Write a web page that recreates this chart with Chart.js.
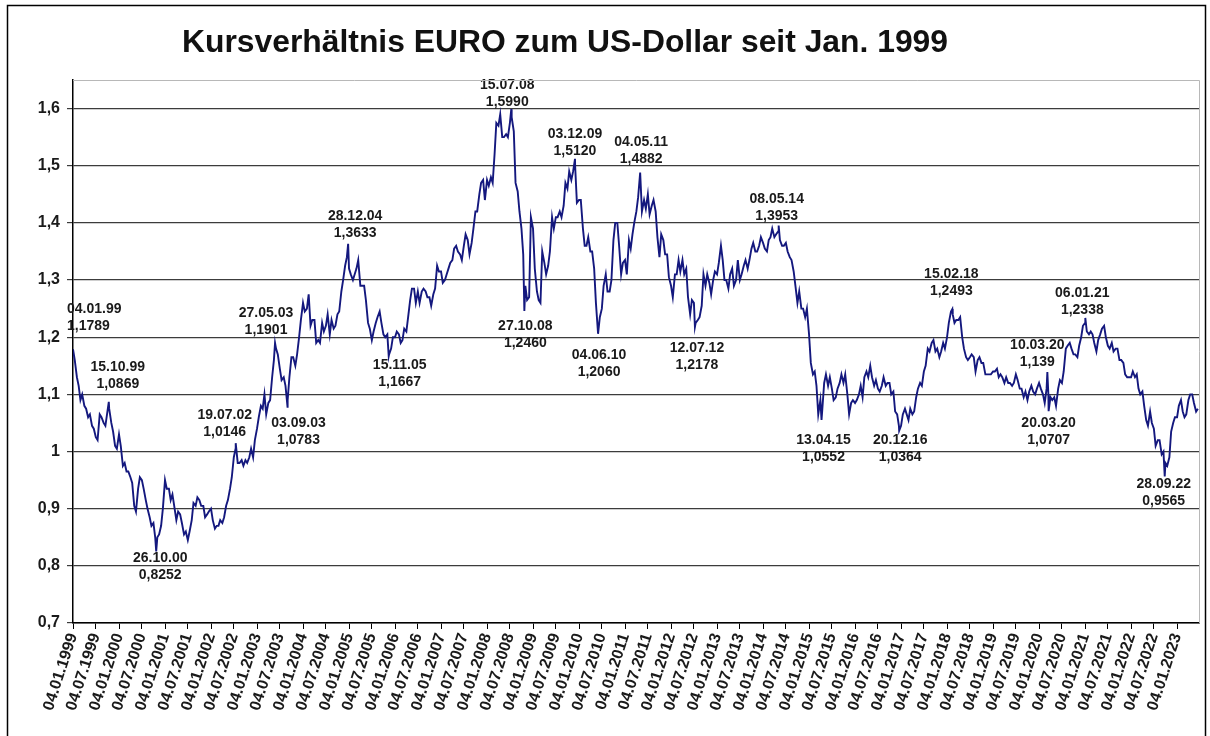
<!DOCTYPE html>
<html>
<head>
<meta charset="utf-8">
<script src="https://cdn.jsdelivr.net/npm/chart.js@4.4.0/dist/chart.umd.min.js"></script>
<style>
  html, body { margin: 0; padding: 0; background: #fff; }
  #wrap { width: 1210px; height: 736px; position: relative; }
</style>
</head>
<body>
<div id="wrap"><canvas id="c" width="1210" height="736"></canvas></div>
<script>
// ---- Data, two readings per month: 4th and 18th ----
const y1999 = [1.1789,1.16, 1.13,1.115, 1.09,1.10, 1.08,1.075, 1.06,1.065, 1.045,1.04, 1.025,1.02, 1.065,1.06, 1.05,1.045, 1.07,1.075, 1.05,1.035, 1.01,1.005];
const y2000 = [1.03,1.01, 0.975,0.98, 0.965,0.965, 0.955,0.945, 0.905,0.895, 0.935,0.955, 0.95,0.935, 0.915,0.90, 0.885,0.87, 0.875,0.85, 0.85,0.855, 0.87,0.90];
const y2001 = [0.95,0.935, 0.935,0.915, 0.925,0.905, 0.88,0.895, 0.89,0.875, 0.855,0.86, 0.845,0.86, 0.88,0.91, 0.905,0.92, 0.915,0.905, 0.905,0.885, 0.89,0.895];
const y2002 = [0.90,0.88, 0.865,0.87, 0.87,0.88, 0.875,0.885, 0.905,0.915, 0.935,0.955, 0.99,1.005, 0.98,0.98, 0.985,0.975, 0.985,0.98, 0.99,1.005, 0.99,1.02];
const y2003 = [1.04,1.06, 1.08,1.075, 1.10,1.065, 1.085,1.09, 1.13,1.16, 1.18,1.17, 1.145,1.125, 1.13,1.115, 1.09,1.13, 1.165,1.165, 1.15,1.17, 1.20,1.23];
const y2004 = [1.26,1.245, 1.25,1.275, 1.22,1.23, 1.23,1.19, 1.195,1.19, 1.225,1.21, 1.22,1.24, 1.205,1.23, 1.215,1.22, 1.24,1.245, 1.28,1.30, 1.325,1.34];
const y2005 = [1.32,1.31, 1.30,1.31, 1.32,1.335, 1.29,1.29, 1.29,1.265, 1.225,1.215, 1.195,1.21, 1.225,1.235, 1.245,1.225, 1.205,1.20, 1.205,1.17, 1.18,1.20];
const y2006 = [1.20,1.21, 1.205,1.19, 1.195,1.215, 1.21,1.235, 1.265,1.285, 1.285,1.26, 1.28,1.26, 1.28,1.285, 1.28,1.27, 1.27,1.255, 1.275,1.285, 1.325,1.315];
const y2007 = [1.315,1.295, 1.30,1.31, 1.32,1.33, 1.335,1.355, 1.36,1.35, 1.345,1.335, 1.36,1.38, 1.37,1.345, 1.365,1.39, 1.42,1.42, 1.45,1.47, 1.475,1.44];
const y2008 = [1.475,1.465, 1.48,1.47, 1.52,1.575, 1.57,1.59, 1.55,1.55, 1.555,1.55, 1.575,1.585, 1.56,1.47, 1.455,1.42, 1.39,1.345, 1.29,1.265, 1.27,1.41];
const y2009 = [1.39,1.32, 1.28,1.265, 1.26,1.35, 1.33,1.31, 1.325,1.35, 1.41,1.39, 1.41,1.41, 1.42,1.41, 1.43,1.47, 1.46,1.49, 1.475,1.49, 1.50,1.435];
const y2010 = [1.44,1.44, 1.39,1.36, 1.36,1.375, 1.35,1.35, 1.32,1.26, 1.215,1.235, 1.25,1.29, 1.31,1.28, 1.28,1.30, 1.37,1.40, 1.40,1.36, 1.31,1.33];
const y2011 = [1.335,1.31, 1.37,1.355, 1.38,1.40, 1.42,1.445, 1.48,1.42, 1.44,1.425, 1.45,1.415, 1.43,1.44, 1.42,1.375, 1.34,1.38, 1.37,1.345, 1.345,1.305];
const y2012 = [1.29,1.27, 1.31,1.31, 1.335,1.315, 1.335,1.31, 1.32,1.27, 1.24,1.265, 1.26,1.225, 1.23,1.235, 1.255,1.31, 1.29,1.31, 1.295,1.275, 1.30,1.315];
const y2013 = [1.31,1.33, 1.36,1.335, 1.30,1.30, 1.285,1.31, 1.32,1.29, 1.30,1.335, 1.30,1.31, 1.325,1.335, 1.32,1.335, 1.355,1.365, 1.35,1.35, 1.36,1.375];
const y2014 = [1.365,1.355, 1.35,1.37, 1.375,1.39, 1.375,1.38, 1.385,1.37, 1.36,1.36, 1.365,1.35, 1.34,1.335, 1.315,1.29, 1.26,1.28, 1.25,1.25, 1.235,1.25];
const y2015 = [1.205,1.155, 1.135,1.14, 1.115,1.065, 1.09,1.07, 1.12,1.135, 1.115,1.13, 1.11,1.09, 1.095,1.11, 1.12,1.135, 1.12,1.135, 1.10,1.065, 1.085,1.09];
const y2016 = [1.085,1.09, 1.10,1.115, 1.095,1.13, 1.14,1.13, 1.15,1.13, 1.115,1.125, 1.11,1.105, 1.115,1.13, 1.115,1.12, 1.12,1.10, 1.105,1.07, 1.065,1.045];
const y2017 = [1.045,1.065, 1.075,1.065, 1.055,1.075, 1.065,1.07, 1.095,1.11, 1.12,1.115, 1.14,1.15, 1.18,1.175, 1.19,1.195, 1.175,1.18, 1.165,1.175, 1.19,1.18];
const y2018 = [1.20,1.225, 1.245,1.24, 1.225,1.23, 1.23,1.235, 1.20,1.18, 1.165,1.16, 1.165,1.17, 1.165,1.14, 1.16,1.165, 1.155,1.155, 1.135,1.135, 1.135,1.135];
const y2019 = [1.14,1.14, 1.145,1.13, 1.135,1.13, 1.12,1.13, 1.12,1.12, 1.115,1.12, 1.135,1.125, 1.11,1.11, 1.095,1.105, 1.09,1.105, 1.115,1.105, 1.10,1.11];
const y2020 = [1.12,1.11, 1.10,1.085, 1.11,1.10, 1.095,1.09, 1.095,1.08, 1.11,1.125, 1.12,1.14, 1.18,1.185, 1.19,1.18, 1.17,1.17, 1.165,1.185, 1.20,1.22];
const y2021 = [1.225,1.21, 1.205,1.21, 1.205,1.19, 1.175,1.195, 1.205,1.215, 1.22,1.20, 1.185,1.18, 1.19,1.175, 1.18,1.18, 1.16,1.16, 1.155,1.135, 1.13,1.13];
const y2022 = [1.13,1.14, 1.13,1.135, 1.11,1.10, 1.105,1.08, 1.055,1.045, 1.07,1.05, 1.04,1.01, 1.02,1.02, 0.995,1.00, 0.98,0.975, 0.99,1.035, 1.05,1.06];
const y2023 = [1.06,1.08, 1.09,1.07, 1.06,1.065, 1.09,1.10, 1.10,1.085, 1.07,1.075];

const years = [1999,2000,2001,2002,2003,2004,2005,2006,2007,2008,2009,2010,2011,2012,2013,2014,2015,2016,2017,2018,2019,2020,2021,2022,2023];
const yearValues = [y1999,y2000,y2001,y2002,y2003,y2004,y2005,y2006,y2007,y2008,y2009,y2010,y2011,y2012,y2013,y2014,y2015,y2016,y2017,y2018,y2019,y2020,y2021,y2022,y2023];

// Annotated extremes
const annDates = ['04.01.99','15.10.99','26.10.00','19.07.02','27.05.03','03.09.03','28.12.04','15.11.05','15.07.08','27.10.08','03.12.09','04.06.10','04.05.11','12.07.12','08.05.14','13.04.15','20.12.16','15.02.18','10.03.20','20.03.20','06.01.21','28.09.22'];
const annText  = ['1,1789','1,0869','0,8252','1,0146','1,1901','1,0783','1,3633','1,1667','1,5990','1,2460','1,5120','1,2060','1,4882','1,2178','1,3953','1,0552','1,0364','1,2493','1,139','1,0707','1,2338','0,9565'];
const annValues = annText.map(s => parseFloat(s.replace(',', '.')));

// Axis tick labels
const tickLabels = ['04.01.1999','04.07.1999','04.01.2000','04.07.2000','04.01.2001','04.07.2001','04.01.2002','04.07.2002','04.01.2003','04.07.2003','04.01.2004','04.07.2004','04.01.2005','04.07.2005','04.01.2006','04.07.2006','04.01.2007','04.07.2007','04.01.2008','04.07.2008','04.01.2009','04.07.2009','04.01.2010','04.07.2010','04.01.2011','04.07.2011','04.01.2012','04.07.2012','04.01.2013','04.07.2013','04.01.2014','04.07.2014','04.01.2015','04.07.2015','04.01.2016','04.07.2016','04.01.2017','04.07.2017','04.01.2018','04.07.2018','04.01.2019','04.07.2019','04.01.2020','04.07.2020','04.01.2021','04.07.2021','04.01.2022','04.07.2022','04.01.2023'];
const yTicks = [0.7,0.8,0.9,1,1.1,1.2,1.3,1.4,1.5,1.6];

const titleText = 'Kursverhältnis EURO zum US-Dollar seit Jan. 1999';

// ---- Layout / style (kept apart from the data) ----
// [dx, dy, align] offsets of annotation text relative to its point
const annLayout = [[-6,-40,'left'],[9,-35,'center'],[4,7,'center'],[-11,-28,'center'],[-9,-30,'center'],[11,16,'center'],[7,-28,'center'],[11,9,'center'],[-4,-24,'center'],[1,15,'center'],[0,-25,'center'],[1,21,'center'],[1,-30,'center'],[2,21,'center'],[-2,-26,'center'],[2,20,'center'],[1,9,'center'],[-1,-35,'center'],[-10,-27,'center'],[0,12,'center'],[-3,-25,'center'],[-1,8,'center']];
const FONT = '"Liberation Sans", Arial, Helvetica, sans-serif';

// ---- helpers ----
function toYear(y, m, d) {
  const start = Date.UTC(y, 0, 1), end = Date.UTC(y + 1, 0, 1);
  return y + (Date.UTC(y, m - 1, d) - start) / (end - start);
}
function parseDate(s) {
  const p = s.split('.').map(Number);
  let y = p[2];
  if (y < 100) y += (y > 50 ? 1900 : 2000);
  return toYear(y, p[1], p[0]);
}

const pts = new Map();
years.forEach((yr, i) => {
  yearValues[i].forEach((v, k) => {
    pts.set(toYear(yr, Math.floor(k / 2) + 1, k % 2 ? 18 : 4), v);
  });
});
annDates.forEach((d, i) => pts.set(parseDate(d), annValues[i]));
const series = [...pts.entries()].sort((a, b) => a[0] - b[0]).map(([x, y]) => ({ x, y }));

const tickPositions = tickLabels.map(parseDate);
const xMin = tickPositions[0];
const xMax = toYear(2023, 6, 27);

const framePlugin = {
  id: 'frame',
  beforeDraw(chart) {
    const ctx = chart.ctx;
    ctx.save();
    ctx.fillStyle = '#fff';
    ctx.fillRect(0, 0, chart.width, chart.height);
    ctx.restore();
  },
  afterDraw(chart) {
    const { ctx, chartArea: a } = chart;
    ctx.save();
    ctx.strokeStyle = '#b8b8b8';
    ctx.lineWidth = 1;
    ctx.beginPath();
    ctx.moveTo(a.left, a.top + 0.5); ctx.lineTo(a.right + 0.5, a.top + 0.5); ctx.lineTo(a.right + 0.5, a.bottom);
    ctx.stroke();
    ctx.strokeStyle = '#000';
    ctx.lineWidth = 1.5;
    ctx.strokeRect(7.5, 5.5, 1198, 745);
    ctx.fillStyle = '#111';
    ctx.font = 'bold 32px ' + FONT;
    ctx.textAlign = 'left';
    ctx.textBaseline = 'alphabetic';
    ctx.fillText(titleText, 182, 52, 766);
    ctx.restore();
  }
};

const annPlugin = {
  id: 'ann',
  afterDatasetsDraw(chart) {
    const { ctx, scales: { x, y } } = chart;
    ctx.save();
    ctx.font = 'bold 14px ' + FONT;
    ctx.fillStyle = '#1a1a1a';
    ctx.textBaseline = 'middle';
    annDates.forEach((d, i) => {
      const [dx, dy, al] = annLayout[i];
      const px = x.getPixelForValue(parseDate(d)) + dx;
      const py = y.getPixelForValue(annValues[i]) + dy;
      ctx.textAlign = al;
      ctx.fillText(d, px, py);
      ctx.fillText(annText[i], px, py + 17);
    });
    ctx.restore();
  }
};

new Chart(document.getElementById('c'), {
  type: 'line',
  data: {
    datasets: [{
      data: series,
      borderColor: '#14187e',
      borderWidth: 1.9,
      pointRadius: 0,
      tension: 0,
      fill: false
    }]
  },
  options: {
    responsive: false,
    animation: false,
    devicePixelRatio: 1,
    layout: { padding: { top: 80, right: 11, left: 0, bottom: 0 } },
    plugins: { legend: { display: false }, tooltip: { enabled: false }, title: { display: false } },
    scales: {
      x: {
        type: 'linear',
        min: xMin,
        max: xMax,
        afterBuildTicks: (s) => { s.ticks = tickPositions.map(v => ({ value: v })); },
        afterFit: (s) => { s.height = 113; },
        grid: { drawOnChartArea: false, drawTicks: true, tickLength: 6, color: '#000', lineWidth: 1 },
        border: { color: '#000', width: 1.5 },
        ticks: {
          autoSkip: false,
          minRotation: 72,
          maxRotation: 72,
          padding: 2,
          color: '#1a1a1a',
          font: { family: FONT, size: 16, weight: 'bold' },
          callback: (v, i) => tickLabels[i]
        }
      },
      y: {
        type: 'linear',
        min: 0.7,
        max: 1.65,
        afterBuildTicks: (s) => { s.ticks = yTicks.map(v => ({ value: v })); },
        afterFit: (s) => { s.width = 73; },
        grid: { color: '#3c3c3c', lineWidth: 1.2, tickLength: 6 },
        border: { color: '#000', width: 1.5 },
        ticks: {
          padding: 7,
          color: '#1a1a1a',
          font: { family: FONT, size: 16, weight: 'bold' },
          callback: (v) => String(v).replace('.', ',')
        }
      }
    }
  },
  plugins: [framePlugin, annPlugin]
});
</script>
</body>
</html>
